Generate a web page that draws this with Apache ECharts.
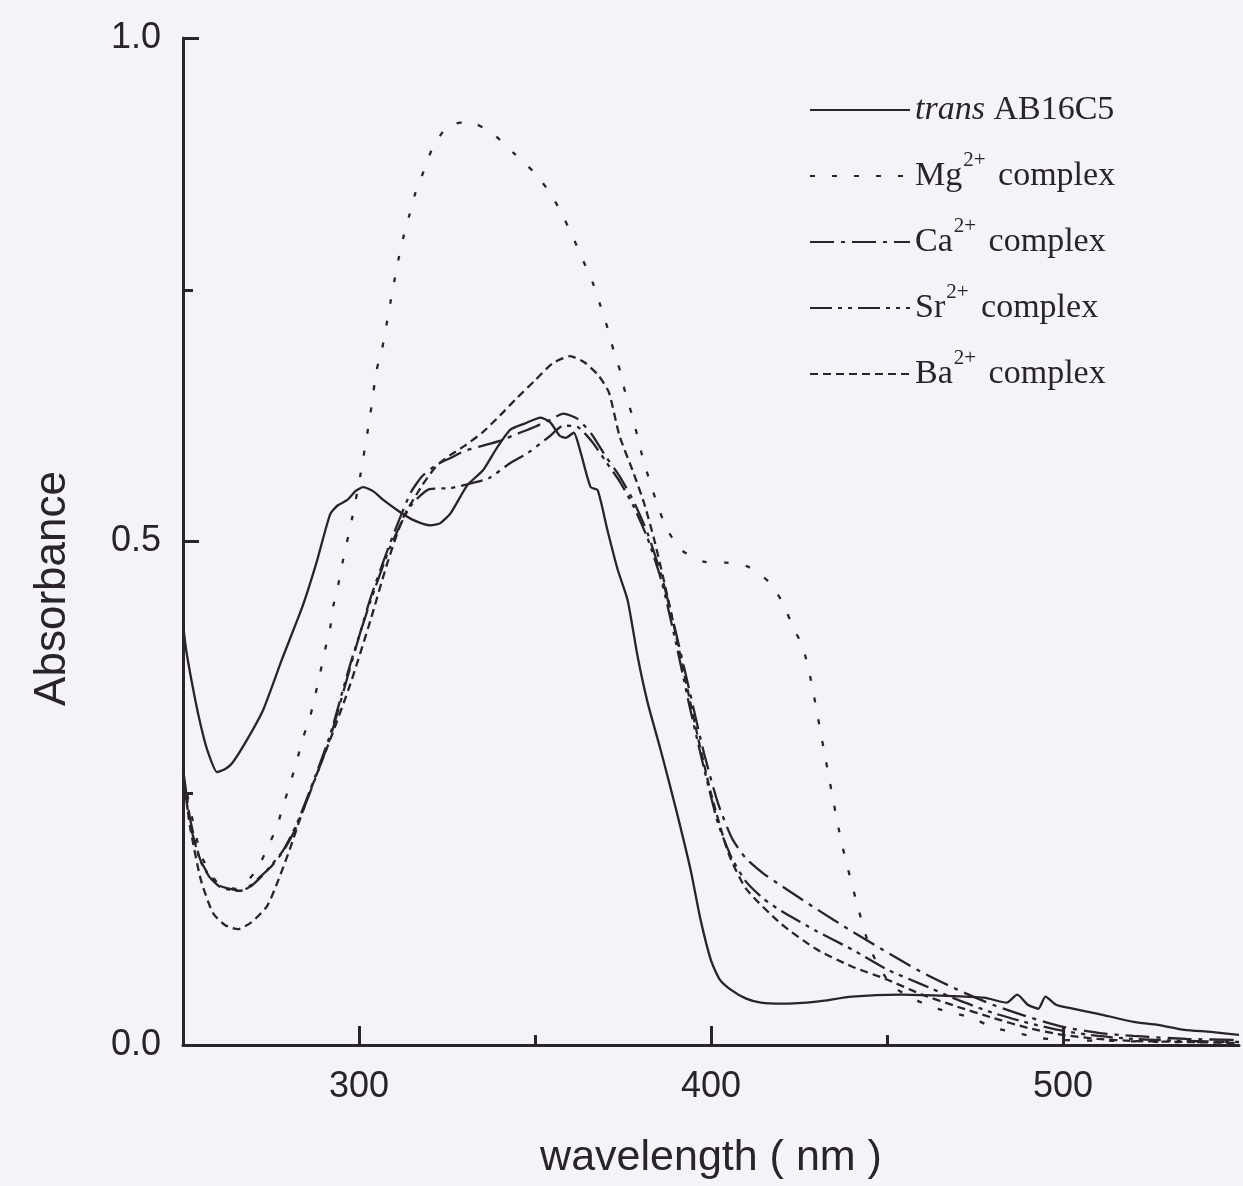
<!DOCTYPE html>
<html>
<head>
<meta charset="utf-8">
<script src="https://cdn.jsdelivr.net/npm/echarts@6/dist/echarts.min.js"></script>
<style>html,body{margin:0;padding:0;background:#f3f3f8;}#c{width:1243px;height:1186px;}</style>
</head>
<body>
<div id="c"></div>
<script>
// ---- data (wavelength in nm, absorbance) ----
const seriesNames = ['trans AB16C5', 'Mg2+ complex', 'Ca2+ complex', 'Sr2+ complex', 'Ba2+ complex'];
const xTickLabels = [300, 400, 500];
const xMinorTicks = [350, 450];

const transWl = [250,251,253.4,255,256.8,259.7,262,264,268,272.8,278,284,288,291.8,294,296.6,299,301.2,304,307,310.9,315,320.3,323,326,330.8,335.3,339,343,347,351.6,354.4,357,358.7,361,363,365.8,367.8,370.6,373.5,376.3,379.2,382,385.7,390,394.2,397,400,402.5,405.6,410,414.2,420,430,440,454,465,477.6,484,487,490,493,495,498,501.5,510,520,527,534.5,542,550];
const transAbs = [0.418,0.39,0.344,0.318,0.294,0.271,0.274,0.28,0.302,0.333,0.382,0.436,0.48,0.527,0.536,0.541,0.55,0.554,0.55,0.541,0.531,0.522,0.516,0.518,0.528,0.556,0.571,0.592,0.611,0.617,0.623,0.618,0.605,0.603,0.608,0.588,0.554,0.551,0.511,0.472,0.442,0.385,0.34,0.293,0.235,0.174,0.125,0.084,0.065,0.055,0.046,0.042,0.041,0.043,0.048,0.05,0.049,0.047,0.042,0.05,0.04,0.036,0.048,0.04,0.037,0.031,0.023,0.02,0.015,0.013,0.01];

const mgWl = [250,255,260,265,268,271,273.9,276.7,278.4,280.4,282.4,284.1,286.1,287.6,289,290.4,291.8,292.7,294.1,295.5,298.1,300.4,303.2,305,306.6,307.8,308.9,310,311.2,312.6,314.3,316,318.3,320.8,325.1,331.1,337.6,343.9,349.9,354.7,358.1,361.2,363.8,366.4,368.6,370.6,372.3,374.3,375.7,377.7,379.2,380.9,382.8,384.8,387.4,391.4,397.9,404.2,410.5,416.4,420.4,423.3,426.1,428.4,432.6,436.9,441.2,445.4,451.1,458,465.4,474,480.4,487,493,500,515,530,550];
const mgAbs = [0.27,0.19,0.16,0.155,0.162,0.174,0.195,0.217,0.237,0.259,0.283,0.305,0.326,0.348,0.37,0.393,0.414,0.436,0.457,0.482,0.524,0.566,0.626,0.67,0.692,0.715,0.737,0.758,0.78,0.802,0.824,0.846,0.867,0.89,0.912,0.917,0.906,0.886,0.866,0.844,0.822,0.799,0.778,0.757,0.734,0.712,0.69,0.668,0.647,0.624,0.603,0.579,0.558,0.536,0.513,0.492,0.48,0.479,0.475,0.46,0.439,0.415,0.395,0.362,0.283,0.204,0.144,0.094,0.06,0.045,0.035,0.027,0.017,0.012,0.007,0.005,0.004,0.003,0.003];

const caWl = [250,252,254.8,257.5,260.5,263.5,266.2,269,271.9,275,278.4,282,286.1,291.8,297.5,303.2,308.9,314.6,318,322.3,326,330,335,340,345,350,355,358,362,366,370,374,378,382,386,390,394,398,402,406,410,415,420,430,440,450,460,470,480,490,500,510,520,535,550];
const caAbs = [0.275,0.225,0.185,0.168,0.158,0.155,0.153,0.158,0.167,0.177,0.192,0.215,0.251,0.305,0.375,0.443,0.499,0.548,0.565,0.577,0.583,0.59,0.595,0.6,0.607,0.614,0.622,0.627,0.622,0.607,0.585,0.565,0.54,0.508,0.465,0.41,0.35,0.29,0.24,0.205,0.185,0.17,0.158,0.135,0.113,0.092,0.072,0.055,0.04,0.028,0.018,0.012,0.009,0.006,0.005];

const srWl = [250,252,254.8,257.5,260.5,263.5,266.2,269,271.9,275,278.4,282,286.1,291.8,297.5,303.2,308.9,314.6,320,326,332,337,343,348,354,358,362,366,370,374,378,382,386,390,394,398,402,406,410,415,420,430,440,450,460,470,480,490,500,510,520,535,550];
const srAbs = [0.265,0.22,0.184,0.167,0.157,0.154,0.153,0.157,0.166,0.178,0.193,0.217,0.253,0.308,0.378,0.44,0.495,0.535,0.552,0.553,0.558,0.563,0.578,0.588,0.604,0.615,0.614,0.6,0.58,0.56,0.535,0.503,0.46,0.4,0.335,0.275,0.22,0.185,0.162,0.145,0.133,0.113,0.095,0.075,0.06,0.045,0.032,0.022,0.014,0.009,0.006,0.004,0.003];

const baWl = [250,252,255,258.5,262,265.6,269.5,273.9,277,280.4,283,286,292,297.5,303.2,308,312.6,318,322,326,330,335,340,345,350,355,360,364,368,371,374,378,381,384,388,392,396,400,405,410,420,430,440,450,460,470,480,490,500,510,520,535,550];
const baAbs = [0.27,0.217,0.165,0.131,0.119,0.115,0.122,0.138,0.163,0.195,0.222,0.251,0.305,0.358,0.421,0.478,0.524,0.556,0.575,0.586,0.595,0.608,0.625,0.643,0.66,0.677,0.684,0.678,0.665,0.648,0.605,0.568,0.538,0.5,0.44,0.375,0.31,0.25,0.19,0.155,0.12,0.095,0.078,0.065,0.05,0.038,0.027,0.017,0.01,0.006,0.004,0.003,0.002];

const INK = '#2a2327';
const pairs = (xs, ys) => xs.map((x, i) => [x, ys[i]]);
const dashes = {
  'trans AB16C5': 'solid',
  'Mg2+ complex': [5, 17],
  'Ca2+ complex': [24, 7, 4, 7],
  'Sr2+ complex': [22, 6, 4, 6, 4, 6],
  'Ba2+ complex': [8, 5]
};
const dataSets = [pairs(transWl, transAbs), pairs(mgWl, mgAbs), pairs(caWl, caAbs), pairs(srWl, srAbs), pairs(baWl, baAbs)];

const chart = echarts.init(document.getElementById('c'));
chart.setOption({
  backgroundColor: '#f3f3f8',
  animation: false,
  grid: { left: 183, right: 4, top: 38, bottom: 141, outerBoundsMode: 'none' },
  legend: {
    left: 804, top: 79, orient: 'vertical',
    itemWidth: 100, itemHeight: 14, itemGap: 14,
    itemStyle: { opacity: 0 },
    data: seriesNames,
    textStyle: { fontFamily: 'Liberation Serif', fontSize: 34, color: INK, lineHeight: 52,
      rich: {
        it: { fontFamily: 'Liberation Serif', fontStyle: 'italic', fontSize: 34, color: INK, lineHeight: 52 },
        sup: { fontFamily: 'Liberation Serif', fontSize: 21, color: INK, verticalAlign: 'top', lineHeight: 24, padding: [0, 4, 0, 1] }
      }
    },
    formatter: function (name) {
      if (name.indexOf('trans') === 0) return '{it|trans} AB16C5';
      const m = name.match(/^(\w+)2\+ (.*)$/);
      return m[1] + '{sup|2+} ' + m[2];
    }
  },
  xAxis: [{
    type: 'value', min: 250, max: 550,
    name: 'wavelength ( nm )', nameLocation: 'middle', nameGap: 92,
    nameTextStyle: { fontFamily: 'Liberation Sans', fontSize: 43, color: INK },
    axisLine: { show: true, onZero: false, lineStyle: { color: INK, width: 3 } },
    axisTick: { show: true, inside: true, length: 19, customValues: xTickLabels, lineStyle: { color: INK, width: 3 } },
    axisLabel: { show: true, customValues: xTickLabels, margin: 24, fontFamily: 'Liberation Sans', fontSize: 36, color: INK },
    splitLine: { show: false }
  }, {
    type: 'value', min: 250, max: 550, position: 'bottom', offset: 0,
    axisLine: { show: false },
    axisTick: { show: true, inside: true, length: 10, customValues: xMinorTicks, lineStyle: { color: INK, width: 3 } },
    axisLabel: { show: false },
    splitLine: { show: false }
  }],
  yAxis: {
    type: 'value', min: 0, max: 1, interval: 0.5,
    name: 'Absorbance', nameLocation: 'middle', nameGap: 108, nameRotate: 90,
    nameTextStyle: { fontFamily: 'Liberation Sans', fontSize: 44, color: INK, padding: [0, 94, 0, 0] },
    axisLine: { show: true, lineStyle: { color: INK, width: 3 } },
    axisTick: { show: true, inside: true, length: 16, lineStyle: { color: INK, width: 3 } },
    minorTick: { show: true, splitNumber: 2, length: 10, lineStyle: { color: INK, width: 3 } },
    axisLabel: { margin: 22, fontFamily: 'Liberation Sans', fontSize: 36, color: INK, formatter: v => v.toFixed(1) },
    splitLine: { show: false }
  },
  series: seriesNames.map((n, i) => ({
    name: n, type: 'line', showSymbol: false, symbol: 'none', smooth: 0.2,
    data: dataSets[i],
    lineStyle: { color: INK, width: 2.3, type: dashes[n] },
    itemStyle: { color: INK }
  }))
});
</script>
</body>
</html>
